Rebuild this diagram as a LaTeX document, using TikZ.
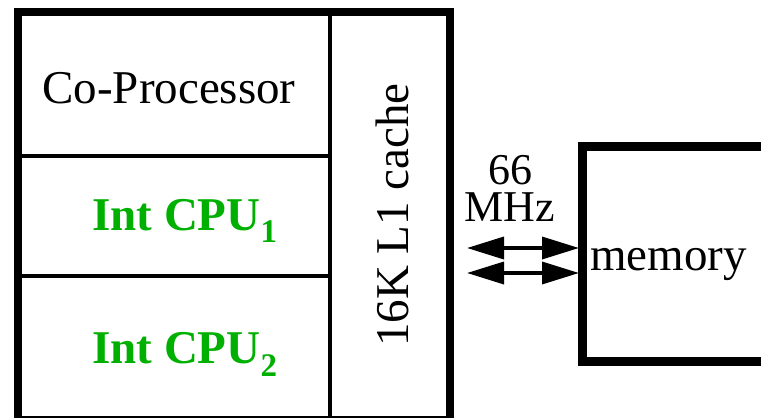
\documentclass[tikz,border=0pt]{standalone}
\usepackage{fontspec}
\setmainfont{Liberation Serif}
\usetikzlibrary{arrows.meta}
\definecolor{intgreen}{RGB}{0,176,0}
\begin{document}
\begin{tikzpicture}[x=1pt,y=-1pt,
  chipframe/.style={line width=8pt},
  divider/.style={line width=3.5pt},
  membox/.style={line width=9pt},
  label/.style={inner sep=0pt,font=\fontsize{47}{56}\selectfont},
  cpulabel/.style={label,anchor=base west,text=intgreen,font=\fontsize{47}{56}\selectfont\bfseries},
  freqlabel/.style={inner sep=0pt,anchor=north,align=center,font=\fontsize{44}{37}\selectfont},
  busarrow/.style={line width=3.5pt,{Triangle[length=37pt,width=22pt]}-{Triangle[length=37pt,width=22pt]}}]
\useasboundingbox (0,0) rectangle (761,418);
\clip (0,0) rectangle (761,418);
% chip frame and compartments
\draw[chipframe] (18,12) rectangle (450,420);
\draw[divider] (330,12) -- (330,420);
\draw[divider] (18,156) -- (330,156);
\draw[divider] (18,276) -- (330,276);
% memory box (open to the right)
\draw[membox] (775,146) -- (582,146) -- (582,361) -- (775,361);
% labels
\node[label,anchor=base] (copro) at (169,103) {Co-Processor};
\node[cpulabel] (cpu1) at (92,230) {Int CPU\raisebox{-12pt}{\fontsize{33}{33}\selectfont 1}};
\node[cpulabel] (cpu2) at (92,363) {Int CPU\raisebox{-13pt}{\fontsize{33}{33}\selectfont 2}};
\node[label,anchor=base,rotate=90] (cache) at (408,215) {16K L1 cache};
\node[freqlabel] (freq) at (510,155) {66\\MHz};
\node[label,anchor=base west] (mem) at (590,270) {memory};
% bus arrows
\coordinate (busL1) at (467,248);
\coordinate (busR1) at (579,248);
\coordinate (busL2) at (467,273);
\coordinate (busR2) at (579,273);
\draw[busarrow] (busL1) -- (busR1);
\draw[busarrow] (busL2) -- (busR2);
\end{tikzpicture}
\end{document}
